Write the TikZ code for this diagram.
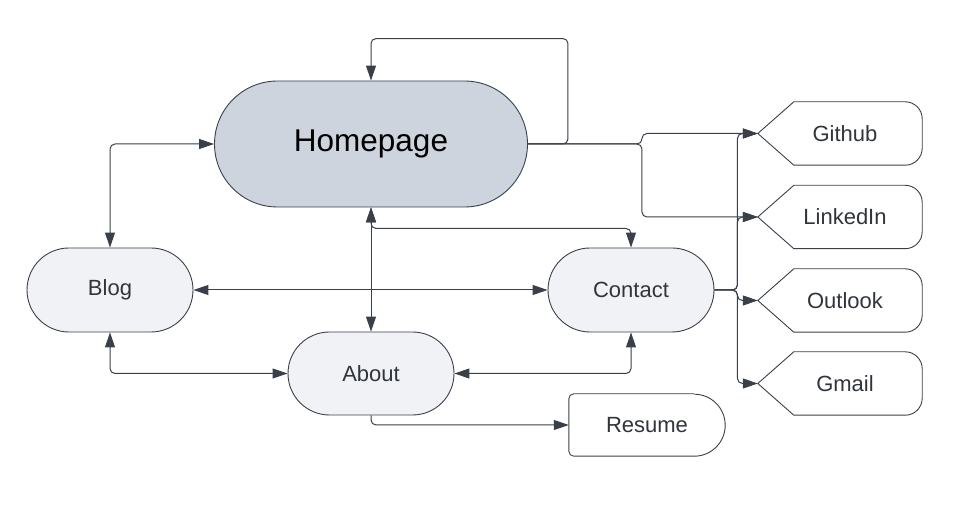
\documentclass[tikz,border=0pt]{standalone}
\usepackage{fontspec}
\setmainfont{Liberation Sans}
\usetikzlibrary{arrows.meta,shapes.misc,calc}
\definecolor{linec}{HTML}{3A4049}
\definecolor{homefill}{HTML}{CED4DE}
\definecolor{nodefill}{HTML}{F1F2F5}
\definecolor{txtc}{HTML}{30353C}
\begin{document}
\begin{tikzpicture}[x=1pt,y=1pt,
  pill/.style={rounded rectangle, draw=linec, line width=0.9pt, fill=nodefill,
    minimum width=166pt, minimum height=84pt, inner sep=0pt, text=txtc,
    font=\fontsize{22}{25}\selectfont},
  homebox/.style={pill, fill=homefill, minimum width=313pt, minimum height=126pt,
    text=black, font=\fontsize{31.5}{35}\selectfont},
  linkbox/.style={rectangle, minimum width=164pt, minimum height=63pt, inner sep=0pt,
    text=txtc, font=\fontsize{22}{25}\selectfont},
  outline/.style={draw=linec, line width=0.9pt, fill=white, line join=round},
  conn/.style={draw=linec, line width=1pt, rounded corners=5pt},
  tipc/.style={-{Triangle[length=15pt,width=10pt]}},
  bi/.style={{Triangle[length=15pt,width=10pt]}-{Triangle[length=15pt,width=10pt]}}
]
\useasboundingbox (0,0) rectangle (963,527);

% nodes
\node[homebox] (home) at (371,383) {Homepage};
\node[pill] (blog) at (110,237) {Blog};
\node[pill] (contact) at (631,237) {Contact};
\node[pill, minimum height=83pt] (about) at (371,153.5) {About};

% Resume
\node[linkbox, minimum width=156pt, minimum height=62pt] (resume) at (647,102) {};
\draw[outline, rounded corners=5pt] ($(resume.north east)+(-31,0)$) -- (resume.north west)
  -- (resume.south west) -- ($(resume.south east)+(-31,0)$);
\fill[white] ($(resume.north west)+(3,-3)$) rectangle ($(resume.south east)+(-31,3)$);
\draw[outline] ($(resume.south east)+(-31,0)$) arc (-90:90:31);
\node[text=txtc, font=\fontsize{22}{25}\selectfont] at (resume.center) {Resume};

% link nodes
\foreach \nm/\lab/\yy in {github/Github/393.5, linkedin/LinkedIn/310, outlook/Outlook/226.5, gmail/Gmail/143.5}{
  \node[linkbox] (\nm) at (840,\yy) {};
  \draw[outline] ($(\nm.north east)+(-17,0)$) arc (90:0:17)
     -- ($(\nm.south east)+(0,17)$) arc (0:-90:17)
     -- ($(\nm.south west)+(36,0)$) -- (\nm.west) -- ($(\nm.north west)+(36,0)$) -- cycle;
  \node[text=txtc, font=\fontsize{22}{25}\selectfont] at ($(\nm.center)+(5,0)$) {\lab};
}

% connectors
\draw[conn, tipc] (home.east) -- ++(40,0) |- ([yshift=42]home.north) -- (home.north);
\draw[conn, tipc] (home.east) -- ++(114,0) |- (github.west);
\draw[conn, tipc] (home.east) -- ++(114,0) |- (linkedin.west);
\draw[conn, bi] (home.west) -| (blog.north);
\draw[conn, bi] (home.south) -- (about.north);
\draw[conn, bi] (home.south) -- ++(0,-21) -| (contact.north);
\draw[conn, bi] (blog.east) -- (contact.west);
\draw[conn, bi] (blog.south) |- (about.west);
\draw[conn, bi] (contact.south) |- (about.east);
\draw[conn, tipc] (about.south) |- (resume.west);
\foreach \nm in {github, linkedin, outlook, gmail}{
  \draw[conn, tipc] (contact.east) -- ++(23,0) |- (\nm.west);
}
\end{tikzpicture}
\end{document}
